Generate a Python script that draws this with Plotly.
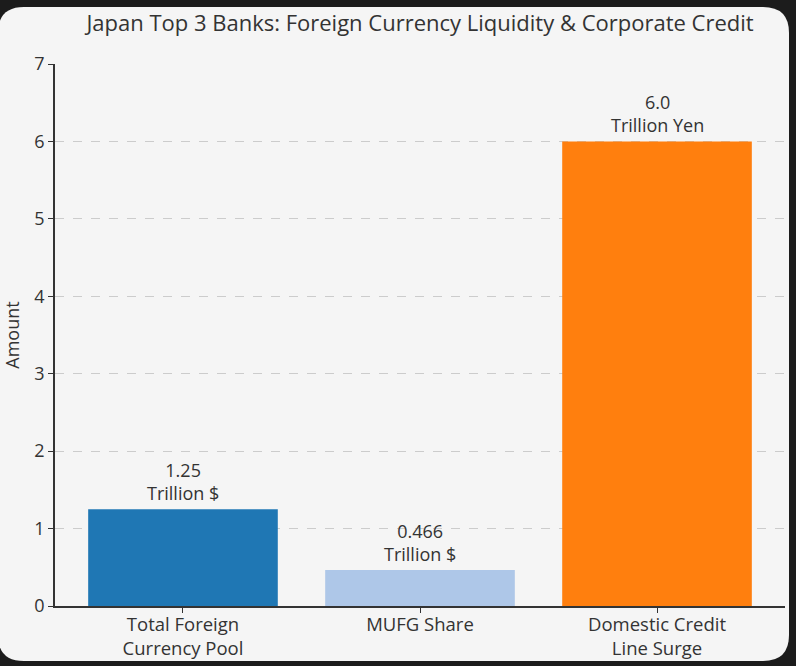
import plotly.graph_objects as go

categories = ["Total Foreign<br>Currency Pool", "MUFG Share", "Domestic Credit<br>Line Surge"]
values = [1.25, 0.466, 6.0]
value_labels = ["1.25", "0.466", "6.0"]
units = ["Trillion $", "Trillion $", "Trillion Yen"]
colors = ["#1f77b4", "#aec7e8", "#ff7f0e"]

W, H = 796, 666
L, R, T, B = 55, 11, 64, 60
FONT = "Open Sans, Roboto, sans-serif"
INK = "#333333"


def to_paper(px, py):
    # convert page pixels to paper fractions (for the rounded panel)
    return (px - L) / (W - L - R), (H - B - py) / (H - T - B)


def rounded_panel(x0, y0, x1, y1, r):
    pts = [
        ("M", (x0 + r, y0)), ("L", (x1 - r, y0)), ("Q", (x1, y0), (x1, y0 + r)),
        ("L", (x1, y1 - r)), ("Q", (x1, y1), (x1 - r, y1)),
        ("L", (x0 + r, y1)), ("Q", (x0, y1), (x0, y1 - r)),
        ("L", (x0, y0 + r)), ("Q", (x0, y0), (x0 + r, y0)),
    ]
    parts = []
    for cmd, *coords in pts:
        parts.append(cmd + " " + " ".join("%.5f,%.5f" % to_paper(*c) for c in coords))
    return " ".join(parts) + " Z"


fig = go.Figure()
fig.add_trace(
    go.Bar(
        x=categories,
        y=values,
        marker=dict(color=colors, line=dict(width=0)),
        width=0.8,
        hoverinfo="skip",
    )
)

for cat, v, lab, unit in zip(categories, values, value_labels, units):
    fig.add_annotation(
        x=cat, y=v, text=f"{lab}<br>{unit}", showarrow=False,
        yanchor="bottom", yshift=2,
        font=dict(family=FONT, size=18, color=INK),
    )

fig.add_shape(
    type="path", xref="paper", yref="paper", layer="below",
    path=rounded_panel(-2, 7, 789, 661, 26),
    fillcolor="#f5f5f5", line=dict(width=0),
)

fig.update_layout(
    width=W, height=H,
    margin=dict(l=L, r=R, t=T, b=B),
    paper_bgcolor="#1c1c1c",
    plot_bgcolor="rgba(0,0,0,0)",
    showlegend=False,
    bargap=0.2,
    title=dict(
        text="Japan Top 3 Banks: Foreign Currency Liquidity & Corporate Credit",
        x=(L + (W - L - R) / 2) / W, xanchor="center", y=1 - 23 / H, yanchor="middle",
        font=dict(family=FONT, size=22, color=INK),
    ),
    font=dict(family=FONT, size=18, color=INK),
)
fig.update_xaxes(
    range=[-0.54, 2.54], automargin=False,
    showline=True, linecolor=INK, linewidth=1.5,
    ticks="outside", ticklen=5, tickcolor=INK, ticklabelstandoff=-4,
    showgrid=False, tickfont=dict(size=18.5, color=INK),
)
fig.update_yaxes(
    range=[0, 7], dtick=1, automargin=False,
    showline=True, linecolor=INK, linewidth=1.5,
    ticks="outside", ticklen=5, tickcolor=INK,
    showgrid=True, gridcolor="#cccccc", griddash="dash", gridwidth=1,
    zeroline=False,
    title=dict(text="Amount", font=dict(size=18, color=INK), standoff=10),
    tickfont=dict(size=18, color=INK),
)

fig.write_html(
    "out.html",
    config={"displayModeBar": False},
    post_script="document.body.style.margin='0';document.body.style.background='#1c1c1c';",
)
